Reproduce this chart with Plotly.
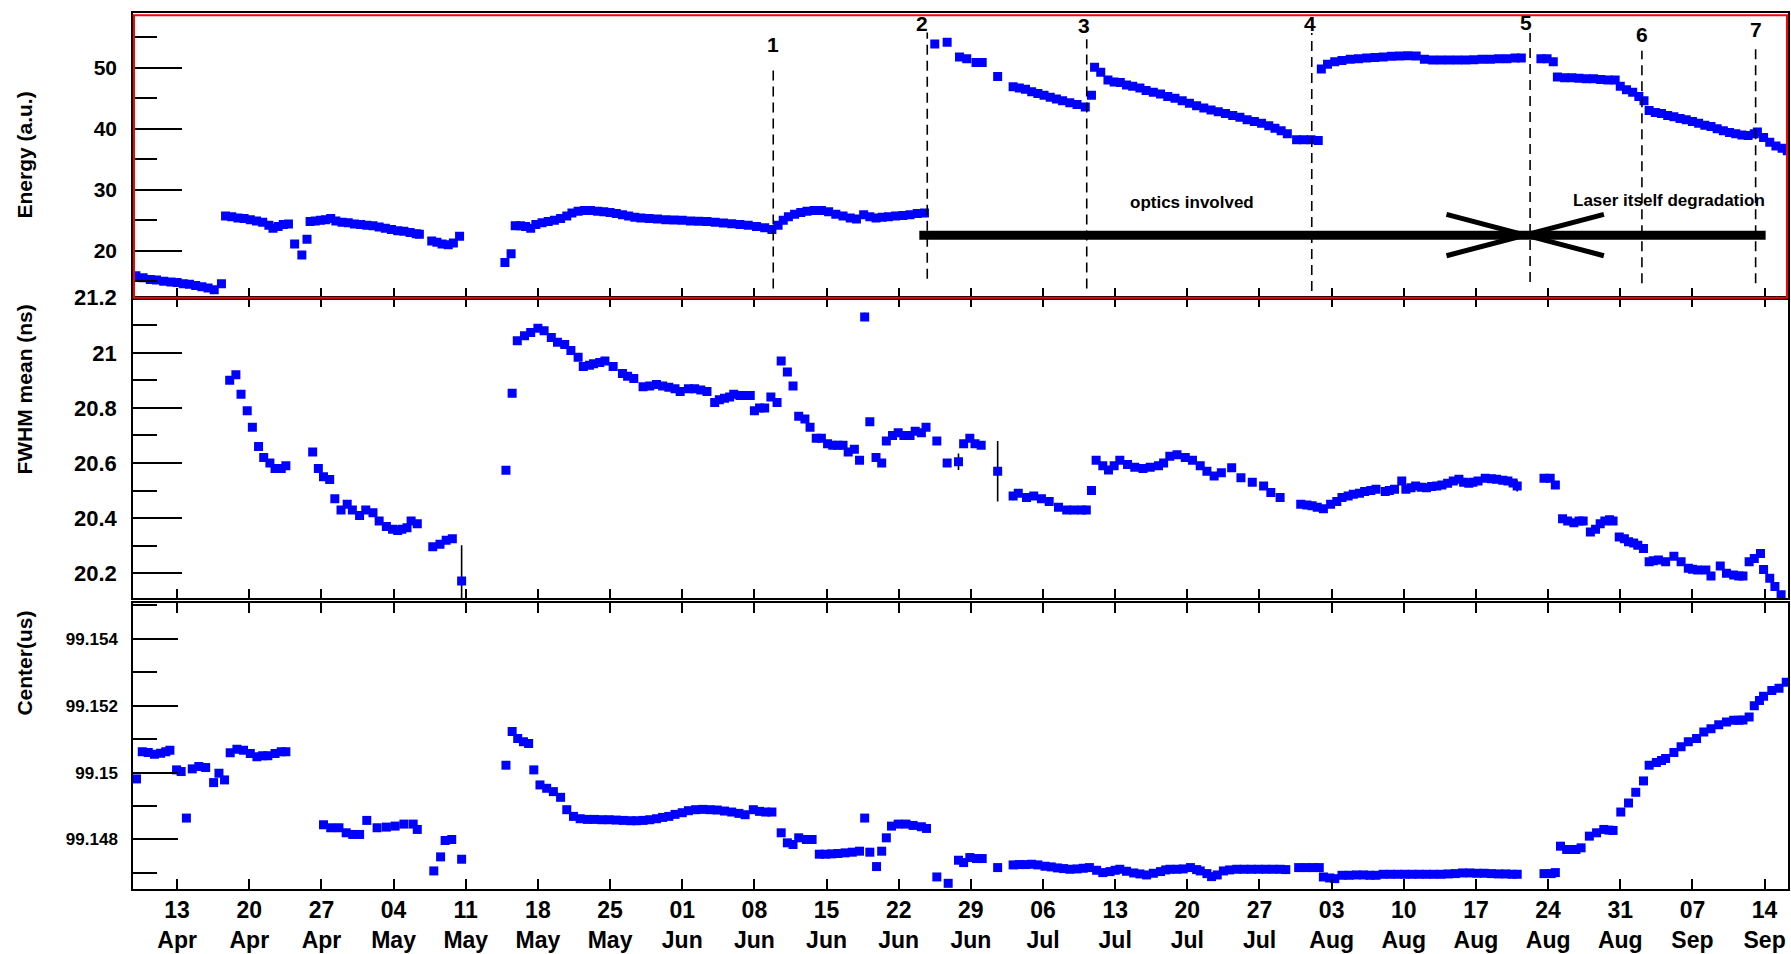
import pandas as pd
import plotly.graph_objects as go

BASE = pd.Timestamp("2015-04-13")

# ---------------- data (day offset from 13 Apr, value) ----------------
energy_points = [
    (-4.0, 15.9), (-3.3, 15.6), (-2.6, 15.3), (-2.0, 15.2), (-1.3, 15.0), (-0.6, 14.9), (0.0, 14.8),
    (0.6, 14.6), (1.2, 14.5), (1.8, 14.3), (2.4, 14.1), (3.0, 13.9), (3.6, 13.6), (4.3, 14.6),
    (4.7, 25.7), (5.3, 25.6), (5.9, 25.4), (6.5, 25.3), (7.1, 25.1), (7.7, 24.9), (8.3, 24.7),
    (8.9, 24.2), (9.3, 23.7), (9.8, 24.0), (10.3, 24.3), (10.8, 24.4),
    (11.4, 21.1), (12.1, 19.3), (12.6, 21.9),
    (12.9, 24.8), (13.4, 24.9), (13.9, 25.0), (14.4, 25.1), (14.9, 25.3), (15.4, 24.9), (16.0, 24.7),
    (16.6, 24.6), (17.2, 24.4), (17.8, 24.3), (18.4, 24.2), (19.0, 24.1), (19.6, 23.9), (20.2, 23.7),
    (20.8, 23.5), (21.4, 23.3), (22.0, 23.2), (22.6, 23.0), (23.2, 22.8), (23.5, 22.7),
    (24.7, 21.6), (25.2, 21.4), (25.7, 21.1), (26.3, 21.0), (26.8, 21.3), (27.4, 22.4),
    (31.8, 18.1), (32.4, 19.5),
    (32.8, 24.1), (33.3, 24.1), (33.8, 24.0), (34.3, 23.7), (34.8, 24.3), (35.4, 24.6), (36.0, 24.8),
    (36.6, 25.0), (37.2, 25.3), (37.8, 25.7), (38.3, 26.2), (38.9, 26.5), (39.5, 26.6), (40.1, 26.6),
    (40.8, 26.5), (41.4, 26.4), (42.0, 26.3), (42.6, 26.1), (43.2, 25.9), (43.8, 25.7), (44.4, 25.5),
    (45.0, 25.4), (45.8, 25.3), (46.6, 25.2), (47.4, 25.1), (48.2, 25.05), (49.0, 25.0), (49.8, 24.9),
    (50.6, 24.85), (51.4, 24.8), (52.2, 24.7), (53.0, 24.55), (53.8, 24.45), (54.6, 24.3), (55.4, 24.2),
    (56.2, 24.0), (57.0, 23.8), (57.7, 23.5),
    (58.3, 24.2), (58.8, 25.0), (59.3, 25.6), (59.9, 26.0), (60.5, 26.3), (61.1, 26.5), (61.8, 26.6),
    (62.5, 26.6), (63.2, 26.4), (63.9, 26.0), (64.6, 25.7), (65.3, 25.4), (65.9, 25.2), (66.6, 25.9),
    (67.2, 25.6), (67.8, 25.4), (68.4, 25.5), (69.0, 25.6), (69.7, 25.7), (70.4, 25.8), (71.1, 25.9),
    (71.8, 26.1), (72.5, 26.2),
    (73.5, 53.9), (74.7, 54.2), (75.9, 51.8), (76.6, 51.5), (77.5, 50.9), (78.1, 50.9), (79.6, 48.6),
    (81.1, 46.9), (81.7, 46.7), (82.3, 46.5), (82.9, 46.1), (83.5, 45.8), (84.1, 45.5), (84.7, 45.2),
    (85.3, 44.9), (85.9, 44.6), (86.6, 44.3), (87.3, 44.0), (88.1, 43.6), (88.7, 45.5),
    (89.0, 50.1), (89.6, 49.3), (90.3, 48.0), (90.9, 47.7), (91.5, 47.6), (92.1, 47.2), (92.7, 47.0),
    (93.4, 46.7), (94.0, 46.3), (94.7, 46.0), (95.4, 45.7), (96.1, 45.3), (96.8, 45.0), (97.5, 44.6),
    (98.2, 44.2), (98.9, 43.8), (99.6, 43.4), (100.3, 43.1), (101.0, 42.8), (101.7, 42.5), (102.4, 42.2),
    (103.1, 41.9), (103.8, 41.5), (104.5, 41.2), (105.2, 40.9), (105.9, 40.5), (106.5, 40.1),
    (107.1, 39.7), (107.7, 39.2),
    (108.6, 38.2), (109.3, 38.2), (110.0, 38.2), (110.7, 38.1),
    (111.0, 49.8), (111.6, 50.6), (112.3, 51.0), (113.0, 51.2), (113.8, 51.4), (114.6, 51.5),
    (115.4, 51.6), (116.2, 51.7), (117.0, 51.8), (117.8, 51.9), (118.6, 51.95), (119.4, 52.0),
    (120.2, 51.95), (121.0, 51.4), (121.8, 51.3), (122.6, 51.3), (123.4, 51.3), (124.2, 51.3),
    (125.0, 51.3), (125.8, 51.35), (126.6, 51.4), (127.4, 51.4), (128.2, 51.5), (129.0, 51.5),
    (129.8, 51.6), (130.4, 51.6),
    (132.3, 51.5), (132.9, 51.5), (133.5, 51.0),
    (133.9, 48.5), (134.6, 48.4), (135.3, 48.4), (136.0, 48.3), (136.7, 48.2), (137.4, 48.2),
    (138.1, 48.1), (138.8, 48.0), (139.5, 48.0), (140.0, 47.0), (140.6, 46.4), (141.2, 46.0),
    (141.8, 45.3), (142.3, 44.6), (142.8, 43.0), (143.4, 42.7), (144.0, 42.5), (144.6, 42.2),
    (145.2, 42.0), (145.8, 41.7), (146.4, 41.5), (147.0, 41.2), (147.6, 40.9), (148.2, 40.6),
    (148.8, 40.4), (149.4, 40.0), (150.0, 39.7), (150.6, 39.4), (151.2, 39.2), (151.8, 39.0),
    (152.4, 38.9), (153.0, 39.2), (153.3, 39.5), (153.9, 38.6), (154.5, 37.8), (155.1, 37.2),
    (155.7, 36.8), (156.2, 36.4),
]

fwhm_points = [
    (5.1, 20.90), (5.7, 20.92), (6.2, 20.85), (6.8, 20.79), (7.3, 20.73), (7.9, 20.66), (8.4, 20.62),
    (9.0, 20.60), (9.5, 20.58), (10.1, 20.58), (10.55, 20.59),
    (13.15, 20.64), (13.7, 20.58), (14.2, 20.55), (14.8, 20.54), (15.3, 20.47), (15.9, 20.43),
    (16.5, 20.45), (17.0, 20.43), (17.7, 20.41), (18.3, 20.43), (19.0, 20.42), (19.6, 20.39),
    (20.3, 20.37), (20.9, 20.36), (21.4, 20.355), (21.8, 20.36), (22.3, 20.365), (22.7, 20.39),
    (23.3, 20.38),
    (24.8, 20.296), (25.5, 20.305), (26.1, 20.32), (26.7, 20.325),
    (27.6, 20.172),
    (31.9, 20.574), (32.5, 20.853), (33.0, 21.044), (33.7, 21.062), (34.3, 21.074), (35.0, 21.089),
    (35.6, 21.08), (36.3, 21.056), (36.9, 21.038), (37.6, 21.03), (38.2, 21.008), (38.9, 20.984),
    (39.4, 20.95), (40.0, 20.955), (40.4, 20.96), (41.0, 20.965), (41.5, 20.97), (42.3, 20.95),
    (43.2, 20.925), (43.7, 20.915), (44.3, 20.907), (45.2, 20.877), (45.85, 20.88), (46.5, 20.885),
    (47.1, 20.88), (47.7, 20.875), (48.3, 20.87), (48.8, 20.86), (49.6, 20.87), (50.2, 20.87),
    (50.8, 20.865), (51.4, 20.86), (52.15, 20.82), (52.6, 20.83), (53.1, 20.835), (53.6, 20.84),
    (54.0, 20.85), (54.6, 20.845), (55.1, 20.845), (55.6, 20.845), (56.0, 20.79), (56.5, 20.80),
    (57.0, 20.80), (57.6, 20.84), (58.2, 20.82), (58.6, 20.97), (59.2, 20.93), (59.75, 20.88),
    (60.3, 20.77), (60.9, 20.76), (61.4, 20.73), (62.0, 20.69), (62.5, 20.69), (63.1, 20.67),
    (63.6, 20.665), (64.1, 20.665), (64.6, 20.665), (65.1, 20.64), (65.7, 20.65), (66.2, 20.61),
    (66.7, 21.13), (67.2, 20.75), (67.8, 20.62), (68.35, 20.60), (68.8, 20.68), (69.4, 20.70),
    (69.95, 20.71), (70.5, 20.70), (71.1, 20.70), (71.6, 20.715), (72.2, 20.71), (72.65, 20.73),
    (73.7, 20.68), (74.7, 20.60), (75.8, 20.605), (76.3, 20.67), (76.9, 20.69), (77.4, 20.67),
    (78.0, 20.665), (79.6, 20.57),
    (81.1, 20.48), (81.6, 20.49), (82.4, 20.475), (83.1, 20.48), (83.85, 20.47), (84.6, 20.46),
    (85.5, 20.44), (86.3, 20.43), (87.0, 20.43), (87.75, 20.43), (88.2, 20.43), (88.7, 20.50),
    (89.15, 20.61), (89.8, 20.59), (90.35, 20.575), (90.9, 20.59), (91.45, 20.61), (92.2, 20.595),
    (92.9, 20.585), (93.7, 20.58), (94.4, 20.585), (95.2, 20.59), (95.7, 20.60), (96.3, 20.625),
    (97.0, 20.63), (97.8, 20.62), (98.5, 20.61), (99.25, 20.59), (99.9, 20.57), (100.6, 20.553),
    (101.3, 20.565), (102.3, 20.583), (103.2, 20.547), (104.3, 20.53), (105.4, 20.517),
    (106.1, 20.493), (107.0, 20.475),
    (109.0, 20.45), (109.6, 20.448), (110.1, 20.445), (110.6, 20.44), (111.2, 20.434), (111.9, 20.45),
    (112.5, 20.46), (113.0, 20.475), (113.6, 20.48), (114.1, 20.487), (114.7, 20.49), (115.2, 20.497),
    (115.8, 20.50), (116.3, 20.505), (117.2, 20.497), (117.6, 20.50), (118.1, 20.505), (118.8, 20.535),
    (119.2, 20.505), (119.7, 20.51), (120.15, 20.517), (120.7, 20.512), (121.2, 20.51), (121.7, 20.515),
    (122.2, 20.517), (122.7, 20.52), (123.25, 20.527), (123.8, 20.535), (124.35, 20.541), (124.8, 20.53),
    (125.3, 20.527), (125.7, 20.53), (126.2, 20.535), (126.9, 20.545), (127.5, 20.543), (128.0, 20.541),
    (128.6, 20.538), (129.1, 20.535), (129.6, 20.528), (130.0, 20.517),
    (132.6, 20.545), (133.2, 20.545), (133.7, 20.52),
    (134.4, 20.398), (134.9, 20.39), (135.5, 20.383), (136.0, 20.39), (136.4, 20.39), (137.1, 20.35),
    (137.6, 20.36), (138.05, 20.38), (138.5, 20.39), (138.96, 20.394), (139.3, 20.39), (139.9, 20.332),
    (140.4, 20.325), (140.8, 20.314), (141.3, 20.31), (141.7, 20.302), (142.25, 20.29), (142.8, 20.242),
    (143.2, 20.245), (143.7, 20.248), (144.4, 20.242), (145.2, 20.262), (145.9, 20.242), (146.6, 20.218),
    (147.0, 20.215), (147.5, 20.212), (148.3, 20.212), (148.8, 20.19), (149.7, 20.226), (150.3, 20.2),
    (151.0, 20.194), (151.5, 20.19), (151.9, 20.19), (152.5, 20.242), (153.0, 20.254), (153.6, 20.272),
    (153.9, 20.214), (154.5, 20.182), (155.0, 20.152), (155.6, 20.122),
]
fwhm_errors = {27.6: 0.13, 66.7: 0.015, 75.8: 0.03, 79.6: 0.11, 81.1: 0.015, 118.8: 0.012, 130.0: 0.02}

center_points = [
    (-3.94, 99.14981), (-3.38, 99.15062), (-2.8, 99.1506), (-2.2, 99.15055), (-1.6, 99.15058),
    (-1.1, 99.15062), (-0.7, 99.15067), (-0.05, 99.15008), (0.39, 99.15003), (0.9, 99.14864),
    (1.47, 99.15011), (2.1, 99.15018), (2.77, 99.15015), (3.54, 99.1497), (4.06, 99.14998),
    (4.6, 99.14978), (5.15, 99.15059), (5.8, 99.1507), (6.44, 99.15067), (7.1, 99.15057),
    (7.74, 99.15047), (8.3, 99.1505), (8.8, 99.1505), (9.5, 99.15057), (10.1, 99.15062), (10.55, 99.15062),
    (14.2, 99.14844), (14.9, 99.14835), (15.7, 99.14835), (16.4, 99.1482), (17.04, 99.14815),
    (17.7, 99.14815), (18.4, 99.14857), (19.4, 99.14835), (20.3, 99.14837), (21.15, 99.1484),
    (22.0, 99.14846), (22.9, 99.14846), (23.3, 99.1483),
    (24.9, 99.14706), (25.56, 99.14748), (26.0, 99.14797), (26.64, 99.148), (27.6, 99.14741),
    (31.9, 99.15022), (32.5, 99.15123), (33.04, 99.15102), (33.6, 99.15092), (34.1, 99.15087),
    (34.6, 99.15008), (35.2, 99.14963), (35.85, 99.14953), (36.5, 99.14943), (37.2, 99.14926),
    (37.8, 99.14889), (38.45, 99.14869), (39.1, 99.14862), (39.8, 99.1486), (40.5, 99.1486),
    (41.2, 99.14859), (41.9, 99.14859), (42.6, 99.14858), (43.3, 99.14857), (44.0, 99.14856),
    (44.6, 99.14856), (45.2, 99.14857), (45.85, 99.14859), (46.5, 99.14862), (47.1, 99.14866),
    (47.7, 99.14869), (48.3, 99.14875), (49.0, 99.1488), (49.6, 99.14886), (50.3, 99.14889),
    (51.0, 99.1489), (51.7, 99.14889), (52.4, 99.14888), (53.1, 99.14885), (53.8, 99.14882),
    (54.5, 99.14878), (55.1, 99.14874), (55.9, 99.14889), (56.5, 99.14884), (57.1, 99.14882),
    (57.7, 99.14882),
    (58.6, 99.1482), (59.2, 99.1479), (59.75, 99.14785), (60.3, 99.14805), (61.05, 99.148),
    (61.6, 99.148), (62.3, 99.14756), (62.9, 99.14756), (63.5, 99.14757), (64.1, 99.14758),
    (64.8, 99.1476), (65.5, 99.14762), (66.2, 99.14765), (66.7, 99.14864), (67.2, 99.14762),
    (67.85, 99.14719), (68.35, 99.14765), (68.8, 99.14805), (69.3, 99.1484), (69.95, 99.14846),
    (70.7, 99.14846), (71.4, 99.14842), (72.2, 99.14838), (72.7, 99.14833),
    (73.7, 99.14688), (74.8, 99.14669), (75.8, 99.14738), (76.3, 99.14731), (76.9, 99.14746),
    (77.55, 99.14743), (78.1, 99.14743), (79.6, 99.14716),
    (81.1, 99.14724), (81.7, 99.14725), (82.3, 99.14725), (82.9, 99.14726), (83.5, 99.14724),
    (84.2, 99.1472), (84.8, 99.14718), (85.4, 99.14715), (86.0, 99.14713), (86.6, 99.14711),
    (87.3, 99.14712), (87.9, 99.14714), (88.5, 99.14716), (89.2, 99.14708), (89.8, 99.14701),
    (90.5, 99.14704), (91.0, 99.14708), (91.45, 99.14711), (92.1, 99.14705), (92.8, 99.147),
    (93.4, 99.14697), (94.05, 99.14694), (94.7, 99.14699), (95.4, 99.14704), (95.9, 99.14709),
    (96.3, 99.14711), (97.0, 99.14711), (97.6, 99.14712), (98.3, 99.14716), (98.9, 99.1471),
    (99.25, 99.14706), (99.9, 99.14698), (100.35, 99.14689), (100.9, 99.14694), (101.5, 99.14706),
    (102.1, 99.14709), (102.8, 99.14711), (103.5, 99.14711), (104.2, 99.14711), (104.9, 99.14711),
    (105.6, 99.14711), (106.3, 99.14711), (107.0, 99.14711), (107.55, 99.1471),
    (108.8, 99.14716), (109.5, 99.14716), (110.2, 99.14716), (110.8, 99.14716), (111.2, 99.14688),
    (111.8, 99.14685), (112.3, 99.14683), (113.0, 99.14693), (113.7, 99.14693), (114.4, 99.14694),
    (115.1, 99.14694), (115.7, 99.14693), (116.3, 99.14693), (117.0, 99.14696), (117.7, 99.14696),
    (118.4, 99.14696), (119.1, 99.14696), (119.8, 99.14696), (120.5, 99.14696), (121.2, 99.14696),
    (121.9, 99.14696), (122.6, 99.14696), (123.3, 99.14697), (124.0, 99.14698), (124.7, 99.147),
    (125.4, 99.147), (126.1, 99.14699), (126.8, 99.14699), (127.5, 99.14698), (128.2, 99.14697),
    (128.9, 99.14697), (129.5, 99.14696), (130.0, 99.14696),
    (132.6, 99.14698), (133.3, 99.14698), (133.7, 99.14701),
    (134.2, 99.1478), (134.8, 99.1477), (135.3, 99.1477), (135.7, 99.1477), (136.2, 99.14775),
    (137.0, 99.1481), (137.7, 99.1482), (138.4, 99.1483), (138.9, 99.14828), (139.3, 99.14827),
    (140.05, 99.14882), (140.8, 99.14909), (141.5, 99.14941), (142.25, 99.14975), (142.8, 99.15022),
    (143.5, 99.1503), (144.0, 99.15036), (144.4, 99.15042), (145.2, 99.1506), (145.9, 99.15077),
    (146.6, 99.15092), (147.4, 99.15102), (148.1, 99.15121), (148.8, 99.15131), (149.55, 99.15143),
    (150.3, 99.15151), (151.0, 99.15156), (151.5, 99.15156), (151.9, 99.15157), (152.5, 99.15166),
    (153.0, 99.152), (153.5, 99.15215), (153.9, 99.15228), (154.7, 99.15245), (155.4, 99.15252),
    (156.1, 99.1527),
]
center_errors = {-3.94: 0.00004}

# event markers 1..7 (day offsets)
event_labels = ["1", "2", "3", "4", "5", "6", "7"]
event_days = [57.83, 72.77, 88.24, 110.07, 131.25, 142.1, 153.13]

# week ticks
week_ticks = pd.date_range("2015-04-13", "2015-09-14", freq="7D")
week_text = [f"{d:%d}<br>{d:%b}" for d in week_ticks]

energy_days, energy_vals = zip(*energy_points)
fwhm_days, fwhm_vals = zip(*fwhm_points)
center_days, center_vals = zip(*center_points)


def to_date(d):
    return BASE + pd.Timedelta(days=float(d))


def dates(days):
    return [to_date(d) for d in days]


FONT = "Liberation Sans"
BLUE = "#0000ff"
MS = 9

fig = go.Figure()
fig.add_trace(go.Scatter(x=dates(energy_days), y=energy_vals, mode="markers",
                         marker=dict(symbol="square", size=MS, color=BLUE, line=dict(width=0)),
                         xaxis="x", yaxis="y"))
fig.add_trace(go.Scatter(x=dates(fwhm_days), y=fwhm_vals, mode="markers",
                         marker=dict(symbol="square", size=MS, color=BLUE, line=dict(width=0)),
                         error_y=dict(type="data", array=[fwhm_errors.get(d, 0) for d in fwhm_days],
                                      color="black", thickness=1.6, width=0),
                         xaxis="x2", yaxis="y2"))
fig.add_trace(go.Scatter(x=dates(center_days), y=center_vals, mode="markers",
                         marker=dict(symbol="square", size=MS, color=BLUE, line=dict(width=0)),
                         error_y=dict(type="data", array=[center_errors.get(d, 0) for d in center_days],
                                      color="black", thickness=1.6, width=0),
                         xaxis="x3", yaxis="y3"))

xrange = [to_date(-4.28), to_date(156.27)]
dom_top = [0.675, 1.0]
dom_mid = [0.3318, 0.675]
dom_bot = [0.0, 0.3262]

xcommon = dict(type="date", range=xrange, showgrid=False, zeroline=False, showline=True,
               linecolor="black", linewidth=1.5, ticks="inside", ticklen=10, tickwidth=1.5,
               tickcolor="black", tickmode="array", tickvals=list(week_ticks), ticktext=week_text)
ycommon = dict(showgrid=False, zeroline=False, showline=True, linecolor="black", linewidth=1.5,
               mirror=True, ticks="inside", tickwidth=1.5, tickcolor="black", ticklabelstandoff=10)

fig.update_layout(
    width=1791, height=954, autosize=False,
    margin=dict(l=133, r=1, t=12, b=59),
    paper_bgcolor="white", plot_bgcolor="white",
    showlegend=False,
    font=dict(family=FONT, color="black"),
    xaxis=dict(**xcommon, anchor="y", domain=[0, 1], showticklabels=False, mirror=True),
    xaxis2=dict(**xcommon, anchor="y2", domain=[0, 1], showticklabels=False, mirror="ticks"),
    xaxis3=dict(**xcommon, anchor="y3", domain=[0, 1], showticklabels=True, mirror="ticks",
                tickfont=dict(family=FONT, size=23, weight="bold", color="black")),
    yaxis=dict(**ycommon, anchor="x", domain=dom_top, range=[12.31, 59.0],
               tickmode="array", tickvals=[20, 30, 40, 50], ticktext=["20", "30", "40", "50"],
               ticklen=49, tickfont=dict(family=FONT, size=21, weight="bold", color="black"),
               minor=dict(tickvals=[15, 25, 35, 45, 55], ticks="inside", ticklen=24,
                          tickwidth=1.5, tickcolor="black")),
    yaxis2=dict(**ycommon, anchor="x2", domain=dom_mid, range=[20.109, 21.2],
                tickmode="array", tickvals=[20.2, 20.4, 20.6, 20.8, 21.0, 21.2],
                ticktext=["20.2", "20.4", "20.6", "20.8", "21", "21.2"],
                ticklen=49, tickfont=dict(family=FONT, size=22, weight="bold", color="black"),
                minor=dict(tickvals=[20.3, 20.5, 20.7, 20.9, 21.1], ticks="inside", ticklen=24,
                           tickwidth=1.5, tickcolor="black")),
    yaxis3=dict(**ycommon, anchor="x3", domain=dom_bot, range=[99.14652, 99.15506],
                tickmode="array", tickvals=[99.148, 99.150, 99.152, 99.154],
                ticktext=["99.148", "99.15", "99.152", "99.154"],
                ticklen=45, tickfont=dict(family=FONT, size=17, weight="bold", color="black"),
                minor=dict(tickvals=[99.147, 99.149, 99.151, 99.153, 99.155], ticks="inside",
                           ticklen=24, tickwidth=1.5, tickcolor="black")),
)

shapes = []
annotations = []
line_tops = [49.6, 55.8, 54.7, 55.7, 55.7, 52.8, 53.4]
line_bots = [13.8, 15.4, 13.8, 13.4, 14.9, 14.7, 14.7]
label_ys = [53.9, 57.2, 56.9, 57.2, 57.4, 55.5, 56.3]
label_dx = [0, -5, -3, -2, -4, 0, 0]
for lab, d, top, bot, ly, dx in zip(event_labels, event_days, line_tops, line_bots, label_ys, label_dx):
    shapes.append(dict(type="line", xref="x", yref="y", x0=to_date(d), x1=to_date(d), y0=bot, y1=top,
                       line=dict(color="black", width=1.6, dash="10px,6px")))
    annotations.append(dict(xref="x", yref="y", x=to_date(d), y=ly, text=lab, showarrow=False,
                            xshift=dx, font=dict(family=FONT, size=21, weight="bold", color="black")))

# thick horizontal bar and the cross at event 5
shapes.append(dict(type="line", xref="x", yref="y", x0=to_date(72.0), x1=to_date(154.1), y0=22.56, y1=22.56,
                   line=dict(color="black", width=9)))
shapes.append(dict(type="line", xref="x", yref="y", x0=to_date(123.14), x1=to_date(138.41), y0=25.97, y1=19.19,
                   line=dict(color="black", width=5)))
shapes.append(dict(type="line", xref="x", yref="y", x0=to_date(123.14), x1=to_date(138.41), y0=19.19, y1=25.97,
                   line=dict(color="black", width=5)))

annotations.append(dict(xref="x", yref="y", x=to_date(98.5), y=27.9, text="optics involved", showarrow=False,
                        font=dict(family=FONT, size=17, weight="bold", color="black")))
annotations.append(dict(xref="x", yref="y", x=to_date(144.7), y=28.2, text="Laser itself degradation",
                        showarrow=False, font=dict(family=FONT, size=17, weight="bold", color="black")))

# red highlight frame around the top pad
shapes.append(dict(type="rect", xref="paper", yref="paper", x0=0.0006, x1=0.9994, y0=0.675, y1=0.9975,
                   line=dict(color="red", width=2), fillcolor="rgba(0,0,0,0)"))

# axis titles
for txt, yy in [("Energy (a.u.)", 0.838), ("FWHM mean (ns)", 0.5697), ("Center(us)", 0.258)]:
    annotations.append(dict(xref="paper", yref="paper", x=-0.0655, y=yy, text=txt, textangle=-90,
                            showarrow=False, xanchor="center", yanchor="middle",
                            font=dict(family=FONT, size=21, weight="bold", color="black")))

fig.update_layout(shapes=shapes, annotations=annotations)

fig.write_html("out.html", config={"displayModeBar": False},
               post_script="document.body.style.margin='0';document.body.style.overflow='hidden';")
